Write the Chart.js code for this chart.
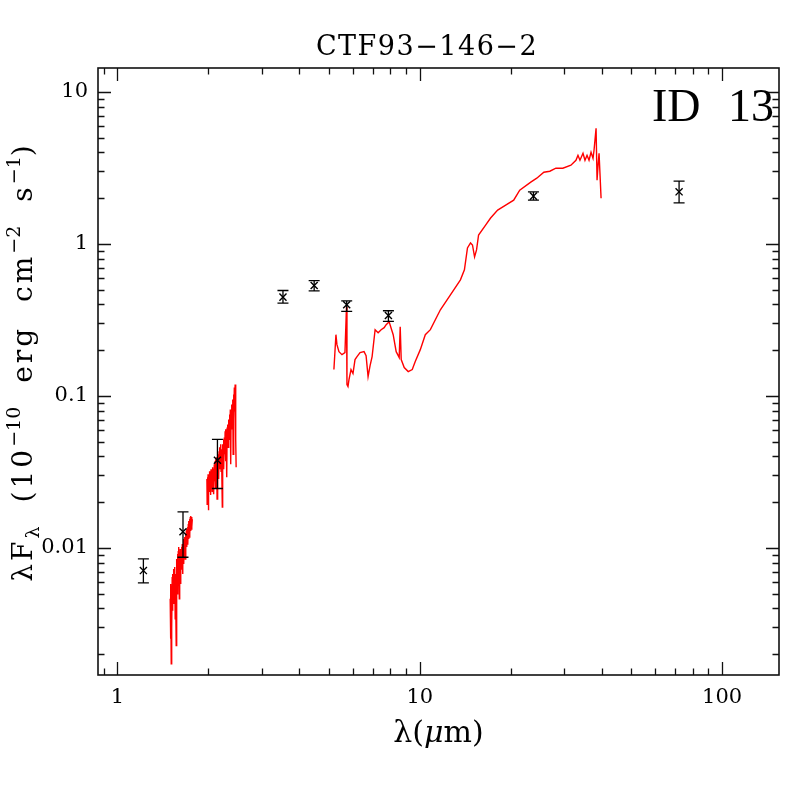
<!DOCTYPE html>
<html><head><meta charset="utf-8">
<script src="https://cdn.jsdelivr.net/npm/chart.js@4"></script>
<style>html,body{margin:0;padding:0;background:#fff}canvas{display:block}</style>
</head><body>
<canvas id="c" width="797" height="797"></canvas>
<script>
// ---- text ----
const titleText = 'CTF93\u2212146\u22122';
const idLabel = 'ID 13';
// ---- axes ----
const xTickValues = [1, 10, 100];
const xTickLabels = ['1', '10', '100'];
const yTickValues = [0.01, 0.1, 1, 10];
const yTickLabels = ['0.01', '0.1', '1', '10'];
const xRange = [0.862, 154.3];
const yRange = [0.00146, 14.38];

// ---- photometry (micron, 1e-10 erg cm^-2 s^-1) ----
const photLam  = [1.218, 1.647, 2.141, 3.527, 4.473, 5.731, 7.875, 23.77, 72.08];
const photFlux = [0.00710, 0.01279, 0.03776, 0.4471, 0.5329, 0.3981, 0.3387, 2.064, 2.203];
const photHi   = [0.00847, 0.01730, 0.05185, 0.4941, 0.5744, 0.4229, 0.3636, 2.203, 2.589];
const photLo   = [0.00590, 0.00869, 0.02463, 0.4086, 0.4918, 0.3598, 0.3094, 1.943, 1.866];

// ---- spectrum, H band ----
const specALam = [1.494,1.498,1.501,1.506,1.509,1.513,1.517,1.521,1.524,1.529,1.532,1.536,1.541,1.544,1.548,1.552,1.556,1.559,1.564,1.568,1.571,1.576,1.580,1.584,1.589,1.592,1.596,1.601,1.604,1.608,1.613,1.617,1.621,1.625,1.629,1.633,1.638,1.642,1.646,1.651,1.654,1.658,1.663,1.667,1.671,1.676,1.680,1.684,1.689,1.693,1.697,1.702,1.706,1.710,1.715,1.719,1.723,1.728,1.732,1.736,1.741,1.745,1.749,1.755,1.759,1.763,1.768];
const specAFlux = [0.00463,0.00253,0.00580,0.00173,0.00538,0.00294,0.00645,0.00386,0.00675,0.00463,0.00728,0.00429,0.00707,0.00538,0.00751,0.00342,0.00675,0.00477,0.00228,0.00626,0.00847,0.00499,0.00913,0.00580,0.00956,0.00675,0.01015,0.00463,0.00900,0.00675,0.00985,0.00580,0.00913,0.00728,0.01015,0.00785,0.01062,0.00675,0.01015,0.00847,0.01146,0.00785,0.01111,0.00913,0.01181,0.00847,0.01235,0.00985,0.01293,0.01015,0.01332,0.01062,0.01373,0.01062,0.01437,0.01146,0.01503,0.01181,0.01549,0.01235,0.01597,0.01293,0.01621,0.01332,0.01597,0.01373,0.01549];

// ---- spectrum, K band ----
const specBLam = [1.976,1.980,1.985,1.990,1.994,1.999,2.003,2.008,2.014,2.020,2.026,2.033,2.039,2.045,2.051,2.058,2.064,2.070,2.077,2.083,2.090,2.096,2.102,2.109,2.115,2.122,2.128,2.135,2.141,2.148,2.155,2.161,2.168,2.174,2.181,2.188,2.195,2.201,2.208,2.215,2.222,2.228,2.235,2.242,2.249,2.256,2.263,2.270,2.277,2.284,2.291,2.298,2.305,2.312,2.319,2.326,2.333,2.340,2.347,2.355,2.362,2.369,2.376,2.384,2.391,2.398,2.406,2.413,2.420,2.428,2.435,2.443,2.450,2.458,2.463,2.469];
const specBFlux = [0.0284,0.0194,0.0292,0.0226,0.0306,0.0177,0.0275,0.0236,0.0320,0.0244,0.0301,0.0223,0.0330,0.0251,0.0310,0.0236,0.0340,0.0263,0.0330,0.0226,0.0355,0.0275,0.0372,0.0244,0.0383,0.0292,0.0395,0.0210,0.0372,0.0306,0.0413,0.0284,0.0433,0.0330,0.0460,0.0340,0.0481,0.0320,0.0446,0.0355,0.0186,0.0481,0.0383,0.0519,0.0330,0.0534,0.0413,0.0585,0.0372,0.0603,0.0446,0.0292,0.0621,0.0481,0.0650,0.0460,0.0701,0.0519,0.0756,0.0534,0.0816,0.0355,0.0791,0.0603,0.0880,0.0621,0.0948,0.0413,0.1023,0.0701,0.1137,0.0791,0.1190,0.0603,0.0519,0.0340];

// ---- spectrum, mid-IR ----
const specCLam = [5.199,5.280,5.321,5.403,5.528,5.656,5.722,5.743,5.788,5.832,5.922,6.013,6.106,6.200,6.344,6.541,6.643,6.745,6.848,6.955,7.116,7.281,7.450,7.624,7.741,7.918,8.166,8.355,8.549,8.615,8.681,8.883,9.158,9.443,9.661,10.04,10.43,10.84,11.70,12.63,13.63,14.05,14.38,14.72,14.94,15.18,15.41,15.65,16.51,17.15,18.10,19.24,20.45,21.41,23.29,24.38,25.73,26.93,28.20,29.74,31.62,32.86,33.37,33.88,34.67,35.20,35.75,36.30,36.86,37.42,37.71,38.30,38.59,38.89,39.18,39.48,39.79];
const specCFlux = [0.1492,0.2531,0.2176,0.1957,0.1871,0.1929,0.3862,0.1190,0.1154,0.1283,0.1492,0.1405,0.1735,0.1816,0.1929,0.1957,0.1843,0.1342,0.1585,0.1816,0.2730,0.2609,0.2730,0.2813,0.2944,0.3080,0.2531,0.1957,0.1789,0.2855,0.1735,0.1538,0.1448,0.1492,0.1684,0.2018,0.2531,0.2730,0.3692,0.4630,0.5806,0.6755,0.9414,1.015,0.985,0.8219,0.9135,1.146,1.332,1.481,1.671,1.802,1.943,2.260,2.551,2.709,2.966,3.011,3.151,3.151,3.296,3.554,3.833,3.554,3.951,3.554,3.833,3.554,4.012,3.663,4.134,5.764,2.629,3.296,3.951,2.834,2.002];

function pairs(lam, flux) { return lam.map((l, i) => ({ x: l, y: flux[i] })); }
function tickLabel(values, labels) {
  return (v) => { const i = values.findIndex(t => Math.abs(t - v) / t < 1e-6); return i >= 0 ? labels[i] : ''; };
}
function logTicks(min, max) {
  const out = [];
  for (let e = Math.floor(Math.log10(min)); e <= Math.ceil(Math.log10(max)); e++)
    for (let m = 1; m <= 9; m++) { const v = m * Math.pow(10, e); if (v >= min * 0.9999 && v <= max * 1.0001) out.push({ v, major: m === 1 }); }
  return out;
}
function drawRich(ctx, segs, cx, cy, rot) {
  ctx.save(); ctx.translate(cx, cy); ctx.rotate(rot);
  let w = 0;
  segs.forEach(s => { if (s.t) { ctx.font = s.font; ctx.letterSpacing = s.ls || '0px'; s.w = ctx.measureText(s.t).width; } else s.w = s.gap; w += s.w; });
  let xx = -w / 2; ctx.textAlign = 'left'; ctx.textBaseline = 'alphabetic'; ctx.fillStyle = '#000';
  segs.forEach(s => { if (s.t) { ctx.font = s.font; ctx.letterSpacing = s.ls || '0px'; ctx.fillText(s.t, xx, s.dy || 0); } xx += s.w; });
  ctx.restore();
}

const lineDs = { showLine: true, borderColor: '#ff0000', borderWidth: 1.4, pointRadius: 0, pointHoverRadius: 0, tension: 0, fill: false };

const decor = {
  id: 'decor',
  afterDatasetsDraw(chart) {
    const { ctx, chartArea: a, scales: { x, y } } = chart;
    ctx.save();
    ctx.strokeStyle = '#000'; ctx.lineWidth = 1.3;
    photLam.forEach((l, i) => {
      const px = x.getPixelForValue(l), y1 = y.getPixelForValue(photHi[i]), y2 = y.getPixelForValue(photLo[i]);
      ctx.beginPath();
      ctx.moveTo(px, y1); ctx.lineTo(px, y2);
      ctx.moveTo(px - 5.5, y1); ctx.lineTo(px + 5.5, y1);
      ctx.moveTo(px - 5.5, y2); ctx.lineTo(px + 5.5, y2);
      ctx.stroke();
    });
    ctx.strokeStyle = '#111'; ctx.lineWidth = 1.3;
    ctx.beginPath();
    logTicks(x.min, x.max).forEach(t => {
      const px = Math.round(x.getPixelForValue(t.v)) + 0.5, L = t.major ? 13 : 6.5;
      ctx.moveTo(px, a.bottom); ctx.lineTo(px, a.bottom - L);
      ctx.moveTo(px, a.top); ctx.lineTo(px, a.top + L);
    });
    logTicks(y.min, y.max).forEach(t => {
      const py = Math.round(y.getPixelForValue(t.v)) + 0.5, L = t.major ? 13 : 6.5;
      ctx.moveTo(a.left, py); ctx.lineTo(a.left + L, py);
      ctx.moveTo(a.right, py); ctx.lineTo(a.right - L, py);
    });
    ctx.stroke();
    ctx.lineWidth = 1.6; ctx.strokeStyle = '#111';
    ctx.strokeRect(a.left, a.top, a.right - a.left, a.bottom - a.top);
    ctx.restore();
  },
  afterDraw(chart) {
    const { ctx, chartArea: a } = chart;
    ctx.save();
    ctx.fillStyle = '#000';
    ctx.font = '27px "DejaVu Serif"'; ctx.letterSpacing = '1.5px'; ctx.textAlign = 'center'; ctx.textBaseline = 'alphabetic';
    ctx.fillText(titleText, 427, 55);
    ctx.font = '46px "Liberation Serif"'; ctx.letterSpacing = '0px'; ctx.wordSpacing = '16px'; ctx.textAlign = 'right';
    ctx.fillText(idLabel, 774, 121);
    ctx.wordSpacing = '0px';
    ctx.restore();
    const xf = '30px "DejaVu Serif"', xi = 'italic 30px "DejaVu Serif"';
    drawRich(ctx, [{ t: '\u03bb(', font: xf }, { t: '\u03bc', font: xi }, { t: 'm)', font: xf }], (a.left + a.right) / 2, 742, 0);
    const m = '28px "DejaVu Serif"', s = '19px "DejaVu Serif"', ls = '3px';
    drawRich(ctx, [
      { t: '\u03bbF', font: m, ls }, { t: '\u03bb', font: s, dy: 7 }, { gap: 24 },
      { t: '(10', font: m, ls }, { t: '\u221210', font: s, dy: -12 }, { gap: 24 },
      { t: 'erg', font: m, ls }, { gap: 24 },
      { t: 'cm', font: m, ls }, { t: '\u22122', font: s, dy: -12 }, { gap: 24 },
      { t: 's', font: m, ls }, { t: '\u22121', font: s, dy: -12 }, { t: ')', font: m, ls }
    ], 32, 362, -Math.PI / 2);
  }
};

new Chart(document.getElementById('c'), {
  type: 'scatter',
  data: {
    datasets: [
      { label: 'Photometry', data: pairs(photLam, photFlux), pointStyle: 'crossRot', pointRadius: 5, pointHoverRadius: 5, borderColor: '#000', backgroundColor: '#000', borderWidth: 1.4 },
      Object.assign({ label: 'Spectrum H' , data: pairs(specALam, specAFlux) }, lineDs),
      Object.assign({ label: 'Spectrum K' , data: pairs(specBLam, specBFlux) }, lineDs),
      Object.assign({ label: 'Spectrum IRS', data: pairs(specCLam, specCFlux) }, lineDs)
    ]
  },
  options: {
    responsive: false, animation: false, devicePixelRatio: 1,
    layout: { padding: { top: 68, right: 18, bottom: 0, left: 0 } },
    plugins: { legend: { display: false }, title: { display: false }, tooltip: { enabled: false } },
    events: [],
    scales: {
      x: {
        type: 'logarithmic', min: xRange[0], max: xRange[1],
        grid: { display: false, drawTicks: false }, border: { display: false },
        ticks: { autoSkip: false, maxRotation: 0, minRotation: 0, padding: 10, color: '#000', font: { family: 'DejaVu Serif', size: 21 }, callback: tickLabel(xTickValues, xTickLabels) },
        afterFit: (sc) => { sc.height = 122; }
      },
      y: {
        type: 'logarithmic', min: yRange[0], max: yRange[1],
        grid: { display: false, drawTicks: false }, border: { display: false },
        ticks: { autoSkip: false, padding: 10, color: '#000', font: { family: 'DejaVu Serif', size: 21 }, callback: tickLabel(yTickValues, yTickLabels) },
        afterFit: (sc) => { sc.width = 98; }
      }
    }
  },
  plugins: [decor]
});
</script>
</body></html>
